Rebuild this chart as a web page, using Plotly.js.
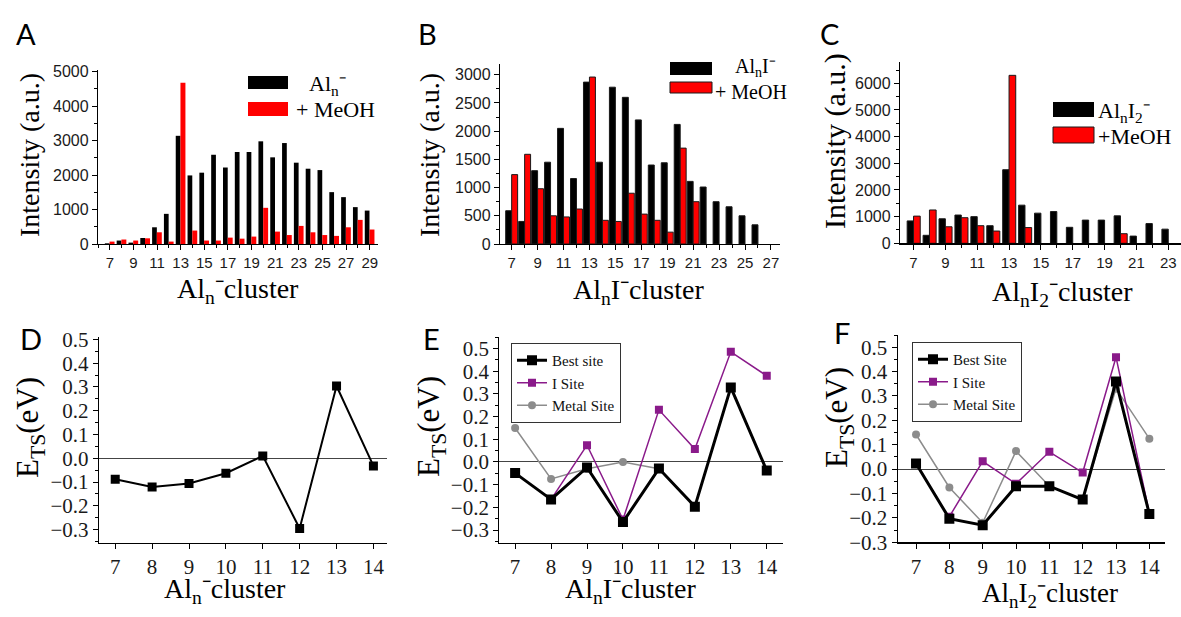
<!DOCTYPE html>
<html>
<head>
<meta charset="utf-8">
<script src="https://cdn.plot.ly/plotly-3.0.1.min.js"></script>
<style>html,body{margin:0;padding:0;background:#fff;}#chart{width:1181px;height:617px;}</style>
</head>
<body>
<div id="chart"></div>
<script>
// ---------- DATA ----------
// Panel A: Al_n^- mass spectrum
const nA = [7,8,9,10,11,12,13,14,15,16,17,18,19,20,21,22,23,24,25,26,27,28,29];
const alnBare = [20,100,40,175,485,875,3140,1990,2070,2590,2220,2670,2670,2980,2515,2930,2360,2185,2145,1505,1360,1070,970];
const alnMeOH = [70,130,100,165,340,70,4680,390,100,100,185,155,215,1050,360,260,525,340,260,235,485,700,420];

// Panel B: Al_nI^- mass spectrum
const nB = [7,8,9,10,11,12,13,14,15,16,17,18,19,20,21,22,23,24,25,26];
const alniBare = [590,400,1300,1450,2050,1160,2870,1450,2780,2600,2200,1400,1440,2120,1110,1010,750,660,500,340];
const alniMeOH = [1230,1590,980,500,480,620,2960,420,400,900,530,420,210,1700,750,null,null,null,null,null];

// Panel C: Al_nI2^- mass spectrum
const nC = [7,8,9,10,11,12,13,14,15,16,17,18,19,20,21,22,23];
const alni2Bare = [840,300,920,1060,1000,660,2760,1430,1130,1190,600,870,870,1030,270,740,530];
const alni2MeOH = [1020,1250,620,960,660,460,6300,590,null,null,null,null,null,360,null,null,null];

// Panels D-F: transition-state energies (eV)
const nTS = [7,8,9,10,11,12,13,14];
const etsAln = [-0.088,-0.121,-0.106,-0.063,0.010,-0.295,0.304,-0.032];

const etsAlniBest  = [-0.049,-0.165,-0.024,-0.265,-0.029,-0.197,0.329,-0.038];
const etsAlniISite = [null,-0.165,0.074,-0.254,0.230,0.057,0.486,0.380];
const etsAlniMetal = [0.150,-0.075,-0.030,0.000,-0.030,null,null,null];

const etsAlni2Best  = [0.023,-0.203,-0.230,-0.070,-0.070,-0.125,0.359,-0.184];
const etsAlni2ISite = [null,-0.195,0.032,-0.060,0.071,-0.014,0.459,-0.180];
const etsAlni2Metal = [0.142,-0.075,-0.220,0.074,-0.070,-0.125,0.330,0.125];

// ---------- STYLE ----------
const W = 1181, H = 617;
const SERIF = 'Liberation Serif';
const SANS = 'Liberation Sans';
const LET = 'Lato';
const px = v => v / W;
const py = v => (H - v) / H;
const RED = '#ff0000';
const PURPLE = '#8a1a8a';
const GRAY = '#8c8c8c';

function baseAxis(domain, range, fam, size, opts) {
  return Object.assign({
    domain: domain, range: range, showline: true, linecolor: '#000', linewidth: 1.2,
    showgrid: false, zeroline: false, ticks: 'outside', ticklen: 5, tickwidth: 1, tickcolor: '#000',
    tickfont: {family: fam, size: size, color: '#1a1a1a'}, fixedrange: true
  }, opts);
}

const traces = [];
function bars(x, y, xa, ya, color, offset, width, lineW) {
  traces.push({type: 'bar', x: x, y: y, xaxis: xa, yaxis: ya, offset: offset, width: width,
    marker: {color: color, line: {color: '#1a1a1a', width: lineW}}, showlegend: false});
}
bars(nA, alnBare, 'x', 'y', '#000', -0.42, 0.4, 0);
bars(nA, alnMeOH, 'x', 'y', RED, -0.02, 0.42, 0);
bars(nB, alniBare, 'x2', 'y2', '#000', -0.46, 0.46, 1);
bars(nB, alniMeOH, 'x2', 'y2', RED, 0.0, 0.46, 1);
bars(nC, alni2Bare, 'x3', 'y3', '#000', -0.4, 0.4, 1);
bars(nC, alni2MeOH, 'x3', 'y3', RED, 0.0, 0.42, 1);

// D
traces.push({type: 'scatter', mode: 'lines+markers', x: nTS, y: etsAln, xaxis: 'x4', yaxis: 'y4',
  line: {color: '#000', width: 2}, marker: {symbol: 'square', size: 9, color: '#000'}, showlegend: false});

// E
traces.push({type: 'scatter', mode: 'lines+markers', name: 'Metal Site', x: nTS, y: etsAlniMetal, xaxis: 'x5', yaxis: 'y5',
  line: {color: GRAY, width: 1.5}, marker: {symbol: 'circle', size: 8, color: GRAY}, legend: 'legend', legendrank: 3});
traces.push({type: 'scatter', mode: 'lines+markers', name: 'I Site', x: nTS, y: etsAlniISite, xaxis: 'x5', yaxis: 'y5',
  line: {color: PURPLE, width: 1.5}, marker: {symbol: 'square', size: 8, color: PURPLE}, legend: 'legend', legendrank: 2});
traces.push({type: 'scatter', mode: 'lines+markers', name: 'Best site', x: nTS, y: etsAlniBest, xaxis: 'x5', yaxis: 'y5',
  line: {color: '#000', width: 3}, marker: {symbol: 'square', size: 10, color: '#000'}, legend: 'legend', legendrank: 1});

// F
traces.push({type: 'scatter', mode: 'lines+markers', name: 'Metal Site', x: nTS, y: etsAlni2Metal, xaxis: 'x6', yaxis: 'y6',
  line: {color: GRAY, width: 1.5}, marker: {symbol: 'circle', size: 8, color: GRAY}, legend: 'legend2', legendrank: 3});
traces.push({type: 'scatter', mode: 'lines+markers', name: 'I Site', x: nTS, y: etsAlni2ISite, xaxis: 'x6', yaxis: 'y6',
  line: {color: PURPLE, width: 1.5}, marker: {symbol: 'square', size: 8, color: PURPLE}, legend: 'legend2', legendrank: 2});
traces.push({type: 'scatter', mode: 'lines+markers', name: 'Best Site', x: nTS, y: etsAlni2Best, xaxis: 'x6', yaxis: 'y6',
  line: {color: '#000', width: 3}, marker: {symbol: 'square', size: 10, color: '#000'}, legend: 'legend2', legendrank: 1});

const zl = {zeroline: true, zerolinecolor: '#444', zerolinewidth: 1};

const legendStyle = {font: {family: SERIF, size: 15, color: '#111'}, bgcolor: '#fff', bordercolor: '#333', borderwidth: 1,
  xanchor: 'left', yanchor: 'top', itemwidth: 30, tracegroupgap: 0, traceorder: 'normal'};

const ann = [];
function text(t, x, y, size, family, opts) {
  ann.push(Object.assign({text: t, x: px(x), y: py(y), xref: 'paper', yref: 'paper', showarrow: false,
    xanchor: 'center', yanchor: 'middle', font: {family: family, size: size, color: '#000'}}, opts || {}));
}
// panel letters
text('A', 26, 34, 29, LET); text('B', 427, 34, 29, LET); text('C', 829, 34, 29, LET);
text('D', 31, 338, 29, LET); text('E', 431, 338, 29, LET); text('F', 842, 332, 29, LET);
// axis titles
text('Intensity (a.u.)', 30, 155, 28, SERIF, {textangle: -90});
text('Intensity (a.u.)', 430, 155, 28, SERIF, {textangle: -90});
text('Intensity (a.u.)', 835, 141, 30, SERIF, {textangle: -90});
text('Al<sub>n</sub>⁻cluster', 238, 290, 28, SERIF);
text('Al<sub>n</sub>I⁻cluster', 638, 291, 28, SERIF);
text('Al<sub>n</sub>I<sub>2</sub>⁻cluster', 1062, 293, 28, SERIF);
text('Al<sub>n</sub>⁻cluster', 225, 590, 28, SERIF);
text('Al<sub>n</sub>I⁻cluster', 630, 590, 28, SERIF);
text('Al<sub>n</sub>I<sub>2</sub>⁻cluster', 1050, 595, 27, SERIF);
text('E<sub>TS</sub>(eV)', 30, 428, 31, SERIF, {textangle: -90});
text('E<sub>TS</sub>(eV)', 431, 427, 31, SERIF, {textangle: -90});
text('E<sub>TS</sub>(eV)', 839, 418, 31, SERIF, {textangle: -90});
// bar legends text
text('Al<sub>n</sub>⁻', 307, 85, 22, SERIF, {xanchor: 'left'});
text('+ MeOH', 294, 109, 22, SERIF, {xanchor: 'left'});
text('Al<sub>n</sub>I⁻', 733, 67, 20, SERIF, {xanchor: 'left'});
text('+ MeOH', 713, 92, 20, SERIF, {xanchor: 'left'});
text('Al<sub>n</sub>I<sub>2</sub>⁻', 1096, 112, 22, SERIF, {xanchor: 'left'});
text('+MeOH', 1096, 136, 22, SERIF, {xanchor: 'left'});

const shapes = [];
function rect(x0, y0, x1, y1, color, lw) {
  shapes.push({type: 'rect', xref: 'paper', yref: 'paper', x0: px(x0), x1: px(x1), y0: py(y1), y1: py(y0),
    fillcolor: color, line: {color: '#1a1a1a', width: lw}});
}
rect(248, 76, 288, 89, '#000', 0); rect(248, 102, 288, 116, RED, 0);
rect(670, 62, 712, 75, '#000', 0); rect(670, 82, 712, 93, RED, 1);
rect(1053, 102, 1094, 117, '#000', 0); rect(1053, 127, 1094, 143, RED, 1);

const minorBarX = {ticks: 'outside', ticklen: 3, dtick: 1, tick0: 7};
const minorTS = {ticks: 'outside', ticklen: 3, dtick: 0.05};

const layout = {
  width: W, height: H, margin: {l: 0, r: 0, t: 0, b: 0}, paper_bgcolor: '#fff', plot_bgcolor: 'rgba(0,0,0,0)',
  font: {family: SERIF, size: 16, color: '#111'},
  barmode: 'overlay', showlegend: true, hovermode: false,
  xaxis:  baseAxis([px(98), px(378)], [6.0, 29.7], SANS, 15, {tickvals: [7,9,11,13,15,17,19,21,23,25,27,29], minor: minorBarX, anchor: 'y'}),
  yaxis:  baseAxis([py(244), py(70)], [0, 5050], SANS, 16, {dtick: 1000, minor: {ticks: 'outside', ticklen: 3, dtick: 500}, anchor: 'x'}),
  xaxis2: baseAxis([px(500), px(780)], [6.1, 27.7], SANS, 15, {tickvals: [7,9,11,13,15,17,19,21,23,25,27], minor: minorBarX, anchor: 'y2'}),
  yaxis2: baseAxis([py(244), py(63.5)], [0, 3200], SANS, 16, {dtick: 500, minor: {ticks: 'outside', ticklen: 3, dtick: 250}, anchor: 'x2'}),
  xaxis3: baseAxis([px(900), px(1181)], [6.15, 23.8], SANS, 15, {tickvals: [7,9,11,13,15,17,19,21,23], minor: minorBarX, anchor: 'y3'}),
  yaxis3: baseAxis([py(243.3), py(62)], [0, 6800], SANS, 16, {dtick: 1000, minor: {ticks: 'outside', ticklen: 3, dtick: 500}, anchor: 'x3'}),
  xaxis4: baseAxis([px(99), px(386.7)], [6.56, 14.36], SERIF, 21, {dtick: 1, anchor: 'y4'}),
  yaxis4: baseAxis([py(542.7), py(337)], [-0.355, 0.51], SERIF, 21, Object.assign({dtick: 0.1, tickformat: '.1f', minor: minorTS, anchor: 'x4'}, zl)),
  xaxis5: baseAxis([px(499.3), px(783.3)], [6.56, 14.46], SERIF, 21, {dtick: 1, anchor: 'y5'}),
  yaxis5: baseAxis([py(542.7), py(337.3)], [-0.356, 0.55], SERIF, 21, Object.assign({dtick: 0.1, tickformat: '.1f', minor: minorTS, anchor: 'x5'}, zl)),
  xaxis6: baseAxis([px(897.7), px(1165)], [6.45, 14.47], SERIF, 21, {dtick: 1, anchor: 'y6'}),
  yaxis6: baseAxis([py(542.3), py(335)], [-0.30, 0.55], SERIF, 21, Object.assign({dtick: 0.1, tickformat: '.1f', minor: minorTS, anchor: 'x6'}, zl)),
  legend:  Object.assign({}, legendStyle, {x: px(511), y: py(343)}),
  legend2: Object.assign({}, legendStyle, {x: px(912), y: py(342)}),
  annotations: ann, shapes: shapes
};

Plotly.newPlot('chart', traces, layout, {displayModeBar: false, staticPlot: true});
</script>
</body>
</html>
